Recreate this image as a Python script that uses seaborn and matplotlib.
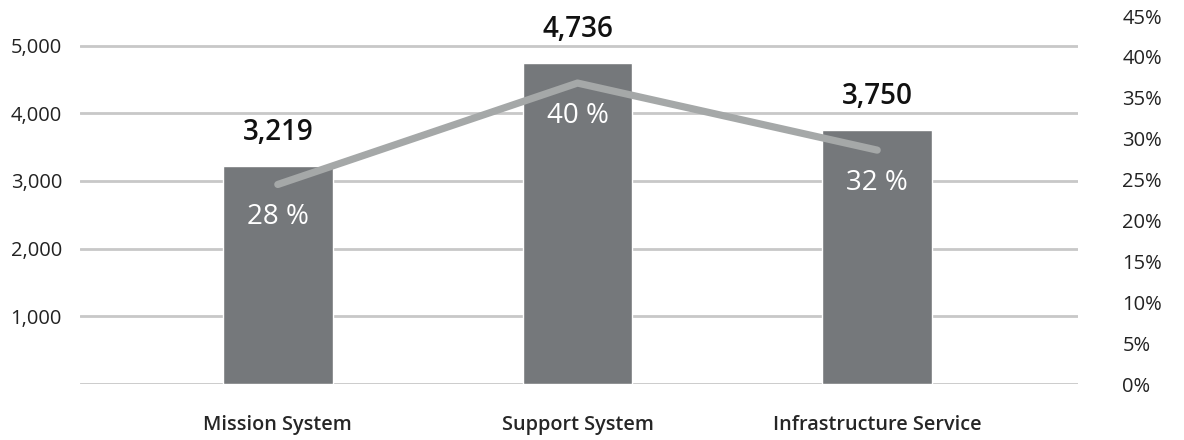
import matplotlib
matplotlib.use("Agg")
import matplotlib.pyplot as plt
import seaborn as sns
import pandas as pd
from matplotlib.ticker import FuncFormatter

categories = ["Mission System", "Support System", "Infrastructure Service"]
values = [3219, 4736, 3750]
line_pct = [24.4, 36.8, 28.6]
pct_labels = ["28 %", "40 %", "32 %"]
left_ticks = [0, 1000, 2000, 3000, 4000, 5000]
right_ticks = [0, 5, 10, 15, 20, 25, 30, 35, 40, 45]

sns.set_theme(style="white")
plt.rcParams["font.family"] = ["Open Sans", "DejaVu Sans"]

df = pd.DataFrame({"cat": categories, "val": values, "pct": line_pct})

fig = plt.figure(figsize=(11.84, 4.4), dpi=100)
ax = fig.add_axes([80 / 1184, 56 / 440, 998 / 1184, 368 / 440])

sns.barplot(data=df, x="cat", y="val", color="#75787b", saturation=1, width=0.367, ax=ax, zorder=3)
ax.set_ylim(0, 5436)
ax.set_xlim(-0.66, 2.67)
ax.set_yticks(left_ticks)
ax.yaxis.set_major_formatter(FuncFormatter(lambda v, p: "" if v == 0 else f"{int(v):,}"))
ax.grid(axis="y", color="#c8c8c8", linewidth=2, zorder=0)
ax.grid(axis="x", visible=False)
for s in ax.spines.values():
    s.set_visible(False)
ax.tick_params(axis="y", length=0, pad=13, labelsize=14.5, labelcolor="#222222")
ax.tick_params(axis="x", length=0, pad=22, labelsize=14.3)
for t in ax.get_xticklabels():
    t.set_fontweight("semibold")
ax.set_xlabel("")
ax.set_ylabel("")

for i, v in enumerate(values):
    ax.annotate(f"{v:,}", (i, v), xytext=(0, 34), textcoords="offset pixels",
                ha="center", va="center", fontsize=20, fontweight="semibold", color="#111111")

ax2 = ax.twinx()
sns.lineplot(data=df, x="cat", y="pct", color="#a5a8a8", linewidth=5.2, ax=ax2, zorder=4)
ax2.set_xlim(-0.66, 2.67)
ax2.set_ylim(0, 45)
ax2.set_yticks(right_ticks)
ax2.yaxis.set_major_formatter(FuncFormatter(lambda v, p: f"{int(v)}%"))
ax2.tick_params(axis="y", length=0, pad=32, labelsize=14.5, labelcolor="#222222")
for t in ax2.get_yticklabels():
    t.set_horizontalalignment("left")
for s in ax2.spines.values():
    s.set_visible(False)
ax2.set_ylabel("")
ax2.set_xlabel("")
ax2.grid(False)

for i, p in enumerate(line_pct):
    ax2.annotate(pct_labels[i], (i, p), xytext=(0, -33), textcoords="offset pixels",
                 ha="center", va="center", fontsize=20, color="white")

fig.savefig("out.png", dpi=100)
